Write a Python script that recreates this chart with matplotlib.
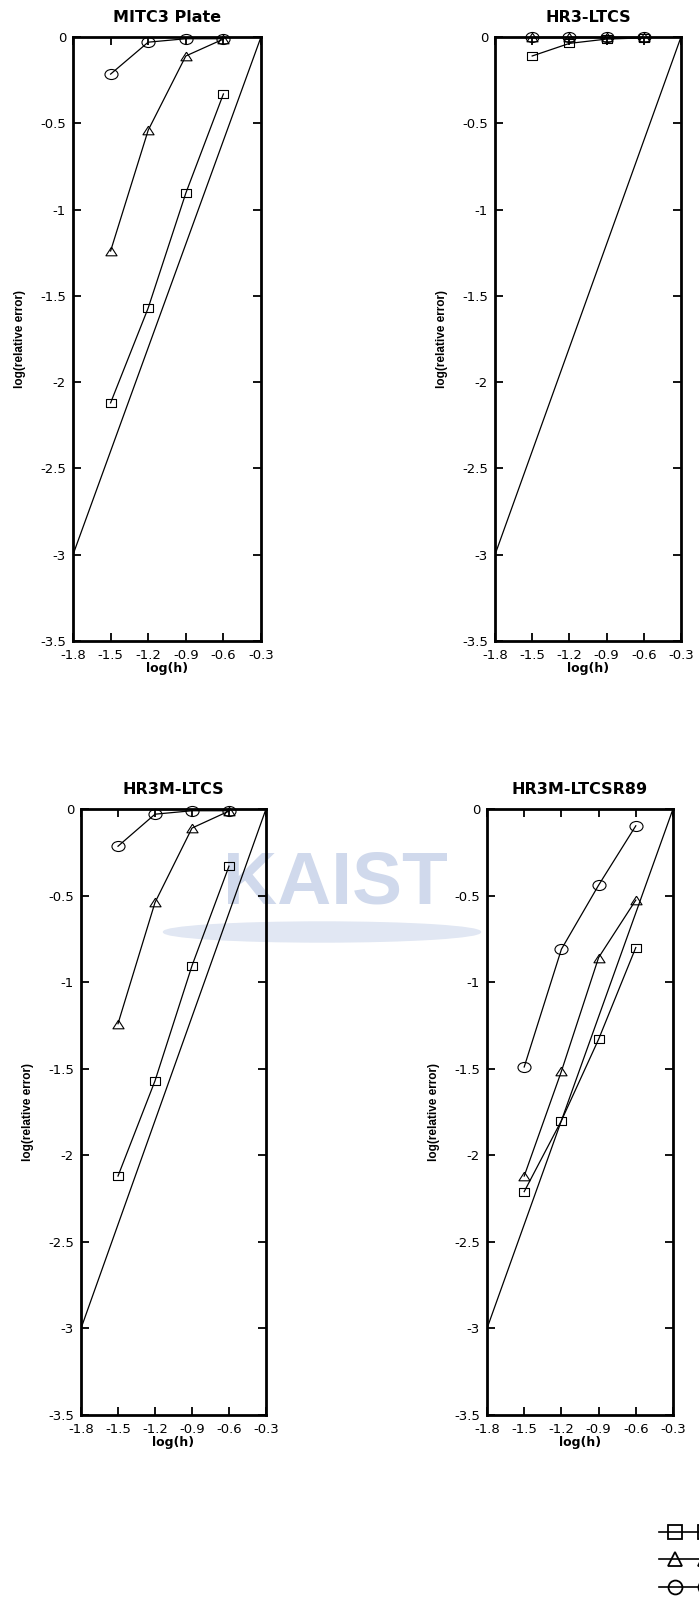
import matplotlib
matplotlib.use("Agg")
import matplotlib.pyplot as plt
from matplotlib.patches import Ellipse
from matplotlib.legend_handler import HandlerLine2DCompound
from matplotlib.lines import Line2D
from matplotlib.path import Path
from matplotlib.transforms import Affine2D
import numpy as np

plt.rcParams['font.family'] = ['DejaVu Sans']

# mesh size (log h)
log_h = np.array([-1.5, -1.2, -0.9, -0.6])

# reference slope-2 line
ref_x = [-1.8, -0.3]
ref_y = [-3.0, 0.0]

titles = ["MITC3 Plate", "HR3-LTCS", "HR3M-LTCS", "HR3M-LTCSR89"]

# log(relative error), one row per thickness (square, triangle, circle)
mitc3 = [[-2.12, -1.57, -0.905, -0.33],
         [-1.24, -0.54, -0.11, -0.012],
         [-0.215, -0.03, -0.01, -0.01]]
hr3 = [[-0.11, -0.037, -0.012, -0.005],
       [0.0, 0.0, 0.0, 0.0],
       [0.0, 0.0, 0.0, 0.0]]
hr3m = [[-2.12, -1.57, -0.905, -0.33],
        [-1.24, -0.54, -0.11, -0.012],
        [-0.215, -0.03, -0.01, -0.01]]
hr3m_r89 = [[-2.21, -1.80, -1.33, -0.80],
            [-2.12, -1.515, -0.858, -0.526],
            [-1.49, -0.81, -0.44, -0.097]]
all_data = [mitc3, hr3, hr3m, hr3m_r89]

# the original plot is a bit wider than tall, so markers are stretched too
sq_path = Path([(-1.2, -1), (1.2, -1), (1.2, 1), (-1.2, 1), (-1.2, -1)])
tri_path = Path([(0, 0.5), (-0.645, -0.5), (0.645, -0.5), (0, 0.5)])
circ_path = Path.unit_circle().transformed(Affine2D().scale(1.3, 1))
plot_markers = [(sq_path, 7.6), (tri_path, 8.0), (circ_path, 9.4)]
legend_markers = [("s", 10), ("^", 9.5), ("o", 10)]


class LegendLine(HandlerLine2DCompound):
    # line starts a bit before the first marker, like the original legend
    def get_xdata(self, legend, xdescent, ydescent, width, height, fontsize):
        xdata = np.array([-xdescent, -xdescent + width])
        xm = np.array([-xdescent + 11.5, -xdescent + 33])
        return xdata, xm


fig = plt.figure(figsize=(6.99, 16.04), dpi=100)

# watermark behind the axes
fig.text(335 / 699, 1 - 884 / 1604, "KAIST", ha='center', va='center',
         fontsize=54, fontweight='bold', color='#d0d9ec',
         family='Liberation Sans', zorder=-2)
fig.patches.append(Ellipse((322 / 699, 1 - 932 / 1604), 317 / 699, 20 / 1604,
                           transform=fig.transFigure, color='#e1e7f3', zorder=-3))

rects = [[73 / 699, 1 - 641 / 1604, 188 / 699, 604 / 1604],
         [495 / 699, 1 - 641 / 1604, 186 / 699, 604 / 1604],
         [81 / 699, 1 - 1415 / 1604, 185 / 699, 606 / 1604],
         [487 / 699, 1 - 1415 / 1604, 186 / 699, 606 / 1604]]

for rect, title, data in zip(rects, titles, all_data):
    ax = fig.add_axes(rect)
    ax.patch.set_alpha(0)
    ax.plot(ref_x, ref_y, color='black', lw=0.9)
    for vals, (m, ms) in zip(data, plot_markers):
        ax.plot(log_h, vals, color='black', lw=0.9, marker=m, markersize=ms,
                markerfacecolor='none', markeredgewidth=0.8, clip_on=False)
    ax.set_xlim(-1.8, -0.3)
    ax.set_ylim(-3.5, 0)
    ax.set_xticks([-1.8, -1.5, -1.2, -0.9, -0.6, -0.3])
    ax.set_yticks(np.arange(-3.5, 0.01, 0.5))
    ax.set_xticklabels(["-1.8", "-1.5", "-1.2", "-0.9", "-0.6", "-0.3"])
    ax.set_yticklabels(["-3.5", "-3", "-2.5", "-2", "-1.5", "-1", "-0.5", "0"])
    ax.tick_params(direction='in', length=6, width=1.3, top=True, right=True,
                   labelsize=9.5)
    ax.tick_params(axis='x', pad=6)
    ax.tick_params(axis='y', pad=5)
    for s in ax.spines.values():
        s.set_linewidth(2)
    ax.set_title(title, fontsize=11.5, fontweight='bold', pad=11)
    ax.set_xlabel("log(h)", fontsize=9, fontweight='bold', labelpad=0)
    ax.set_ylabel("log(relative error)", fontsize=8.5, fontweight='bold',
                  family='Liberation Sans', labelpad=10)

# legend: only the line samples fall inside the page, the labels are cut off
handles = [Line2D([], [], color='black', lw=1.2, marker=m, markersize=ms,
                  markerfacecolor='none', markeredgewidth=1.3)
           for m, ms in legend_markers]
fig.legend(handles, ["", "", ""], loc='upper left',
           bbox_to_anchor=(659 / 699, 1 - 1526 / 1604),
           handler_map={h: LegendLine() for h in handles},
           frameon=False, handlelength=4, fontsize=10,
           labelspacing=0.96, handletextpad=0.5, borderpad=0, borderaxespad=0)

fig.savefig("out.png", dpi=100)
